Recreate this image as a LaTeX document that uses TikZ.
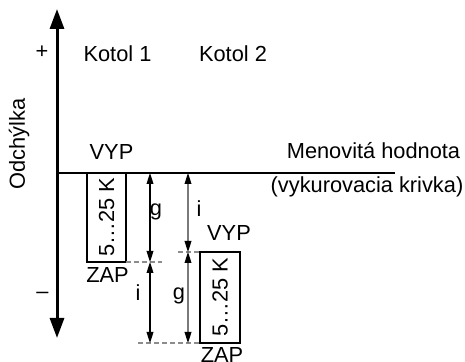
\documentclass[tikz,border=0pt]{standalone}
\usepackage{fontspec}
\setmainfont{Liberation Sans}
\usetikzlibrary{arrows.meta,positioning}
\definecolor{hyGrey}{HTML}{7A7A7A}
\definecolor{hyDash}{HTML}{8C8C8C}
\tikzset{
  axis line/.style={line width=1.5pt,
    {Triangle[length=10pt,width=7pt]}-{Triangle[length=10pt,width=7pt]}},
  nominal line/.style={line width=1.2pt},
  hyst box/.style={draw,line width=1.4pt,rotate=90,inner sep=1pt,
    minimum width=44.5pt,minimum height=19.5pt},
  dim arrow/.style={line width=0.55pt,
    {Triangle[length=5.5pt,width=3.4pt]}-{Triangle[length=5.5pt,width=3.4pt]}},
  dim arrow grey/.style={dim arrow,draw=hyGrey,
    {Triangle[length=5.5pt,width=3.4pt,color=black]}-{Triangle[length=5.5pt,width=3.4pt,color=black]}},
  guide/.style={draw=hyDash,dashed,line width=0.55pt,dash pattern=on 2.5pt off 1.5pt},
  lbl/.style={anchor=base,inner sep=0pt}
}
\begin{document}
\begin{tikzpicture}[x=0.5pt,y=-0.5pt,font=\fontsize{10.9pt}{13pt}\selectfont]
\useasboundingbox (0,0) rectangle (465,362);
% axis of deviation
\coordinate (axtop) at (57,9);
\coordinate (axbot) at (57,338);
\draw[axis line] (axtop) -- (axbot);
\node[lbl,rotate=90] (axlabel) at (25,144) {Odchýlka};
\node (plus) at (42,52) {+};
\node (minus) at (42.5,295) {–};
% nominal value
\coordinate (nomstart) at (57,173);
\coordinate (nomend) at (395,173);
\draw[nominal line] (nomstart) -- (nomend);
\node[lbl] (nomlabel) at (373.5,159) {Menovitá hodnota};
\node[lbl] (curvelabel) at (367,193) {(vykurovacia krivka)};
% boilers
\node[lbl] (kotol1) at (117.5,62) {Kotol 1};
\node[lbl] (kotol2) at (233,62) {Kotol 2};
\node[hyst box] (box1) at (106.5,217.5) {5…25 K};
\node[hyst box,minimum width=45.5pt,minimum height=20pt] (box2) at (220,297.5) {5…25 K};
\node[lbl] (off1) at (111.5,160) {VYP};
\node[lbl] (on1) at (107.5,283) {ZAP};
\node[lbl] (off2) at (229,241) {VYP};
\node[lbl] (on2) at (222,363) {ZAP};
% dimension lines
\coordinate (ga) at (150,173);
\coordinate (gb) at (150,262);
\coordinate (gc) at (150,343);
\coordinate (ia) at (188,173);
\coordinate (ib) at (188,252);
\coordinate (ic) at (188,343);
\coordinate (d1a) at (126,262);
\coordinate (d1b) at (162,262);
\coordinate (d2a) at (178,252);
\coordinate (d2b) at (200,252);
\coordinate (d3a) at (138,343);
\coordinate (d3b) at (200,343);
\draw[guide] (d1a) -- (d1b);
\draw[guide] (d2a) -- (d2b);
\draw[guide] (d3a) -- (d3b);
\draw[dim arrow] (ga) -- (gb);
\draw[dim arrow] (gb) -- (gc);
\draw[dim arrow grey] (ia) -- (ib);
\draw[dim arrow grey] (ib) -- (ic);
\node[lbl] (g1) at (156,216) {g};
\node[lbl] (i1) at (199,217) {i};
\node[lbl] (i2) at (138,301) {i};
\node[lbl] (g2) at (179,300) {g};
\end{tikzpicture}
\end{document}
